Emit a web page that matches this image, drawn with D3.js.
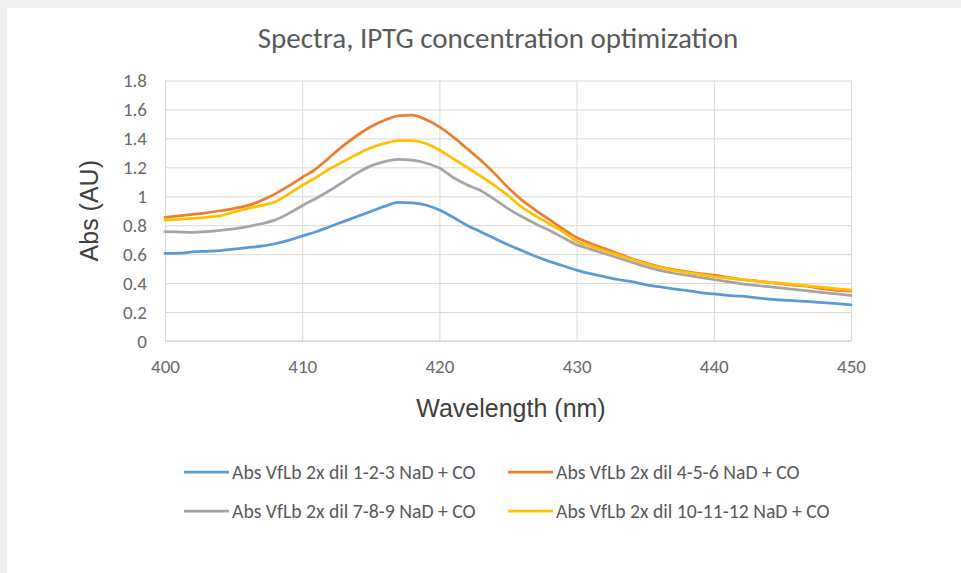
<!DOCTYPE html>
<html>
<head>
<meta charset="utf-8">
<script src="https://cdn.jsdelivr.net/npm/d3@7"></script>
<style>
  html, body { margin: 0; padding: 0; background: #ffffff; }
  svg { display: block; }
</style>
</head>
<body>
<svg id="chart" width="961" height="573"></svg>
<script>
// Wavelengths sampled every 1 nm
const wavelengths = d3.range(400, 451);

const seriesNames = [
  "Abs VfLb 2x dil 1-2-3 NaD + CO",
  "Abs VfLb 2x dil 4-5-6 NaD + CO",
  "Abs VfLb 2x dil 7-8-9 NaD + CO",
  "Abs VfLb 2x dil 10-11-12 NaD + CO"
];
const seriesColors = ["#5b9bd5", "#ed7d31", "#a5a5a5", "#ffc000"];

const abs123 = [0.605, 0.607, 0.615, 0.620, 0.625, 0.635, 0.645, 0.655, 0.672, 0.695,
  0.725, 0.755, 0.790, 0.825, 0.860, 0.895, 0.930, 0.958, 0.955, 0.940,
  0.905, 0.855, 0.800, 0.755, 0.710, 0.665, 0.625, 0.585, 0.550, 0.520,
  0.490, 0.465, 0.445, 0.425, 0.410, 0.390, 0.375, 0.360, 0.350, 0.335,
  0.325, 0.315, 0.310, 0.300, 0.290, 0.283, 0.278, 0.272, 0.265, 0.258, 0.250];

const abs456 = [0.855, 0.865, 0.875, 0.885, 0.900, 0.915, 0.935, 0.970, 1.015, 1.070,
  1.130, 1.190, 1.270, 1.350, 1.420, 1.480, 1.525, 1.555, 1.560, 1.530,
  1.480, 1.410, 1.330, 1.250, 1.160, 1.060, 0.975, 0.905, 0.840, 0.775,
  0.715, 0.675, 0.640, 0.605, 0.570, 0.540, 0.515, 0.495, 0.480, 0.465,
  0.455, 0.440, 0.425, 0.415, 0.405, 0.395, 0.385, 0.375, 0.360, 0.350, 0.345];

const abs789 = [0.755, 0.753, 0.750, 0.755, 0.765, 0.775, 0.790, 0.810, 0.835, 0.880,
  0.935, 0.985, 1.040, 1.100, 1.160, 1.210, 1.240, 1.255, 1.250, 1.230,
  1.195, 1.130, 1.080, 1.040, 0.980, 0.915, 0.860, 0.810, 0.765, 0.715,
  0.665, 0.635, 0.605, 0.575, 0.545, 0.515, 0.490, 0.470, 0.455, 0.440,
  0.425, 0.410, 0.395, 0.385, 0.375, 0.365, 0.355, 0.345, 0.335, 0.325, 0.315];

const abs101112 = [0.835, 0.840, 0.847, 0.855, 0.865, 0.890, 0.915, 0.935, 0.960, 1.015,
  1.075, 1.130, 1.190, 1.240, 1.290, 1.335, 1.365, 1.385, 1.385, 1.365,
  1.320, 1.260, 1.200, 1.140, 1.075, 1.005, 0.925, 0.865, 0.810, 0.755,
  0.690, 0.655, 0.625, 0.595, 0.565, 0.535, 0.510, 0.490, 0.475, 0.460,
  0.445, 0.435, 0.425, 0.415, 0.405, 0.398, 0.390, 0.380, 0.370, 0.360, 0.352];

const seriesValues = [abs123, abs456, abs789, abs101112];

const xTicks = [400, 410, 420, 430, 440, 450];
const yTicks = [0, 0.2, 0.4, 0.6, 0.8, 1, 1.2, 1.4, 1.6, 1.8];

const titleText = "Spectra, IPTG concentration optimization";
const xTitle = "Wavelength (nm)";
const yTitle = "Abs (AU)";

// ---- layout ----
const svg = d3.select("#chart");
const W = 961, H = 573;
const plot = { left: 165, right: 851, top: 80.5, bottom: 341 };

// page frame: light grey edge along top and left
svg.append("rect").attr("width", W).attr("height", H).attr("fill", "#efefef");
svg.append("rect").attr("x", 7).attr("y", 8).attr("width", W - 7).attr("height", H - 8).attr("fill", "#ffffff");

const x = d3.scaleLinear().domain([400, 450]).range([plot.left, plot.right]);
const y = d3.scaleLinear().domain([0, 1.8]).range([plot.bottom, plot.top]);

const labelFont = "Carlito, 'Open Sans', 'Noto Sans', sans-serif";
const titleFont = "'Liberation Sans', Arial, sans-serif";

// grid
const gridY = d3.axisLeft(y).tickValues(yTicks).tickSize(-(plot.right - plot.left)).tickFormat("");
svg.append("g").attr("transform", `translate(${plot.left},0)`).call(gridY)
  .call(g => g.select(".domain").remove())
  .call(g => g.selectAll("line").attr("stroke", "#d9d9d9").attr("stroke-width", 1));

const gridX = d3.axisBottom(x).tickValues(xTicks).tickSize(-(plot.bottom - plot.top)).tickFormat("");
svg.append("g").attr("transform", `translate(0,${plot.bottom})`).call(gridX)
  .call(g => g.select(".domain").remove())
  .call(g => g.selectAll("line").attr("stroke", "#d9d9d9").attr("stroke-width", 1));

// tick labels
const yAxis = d3.axisLeft(y).tickValues(yTicks).tickSize(0).tickPadding(18)
  .tickFormat(d => d3.format("~g")(d));
svg.append("g").attr("transform", `translate(${plot.left},0)`).call(yAxis)
  .call(g => g.select(".domain").remove())
  .call(g => g.selectAll("text").attr("fill", "#6a6a6a").attr("font-size", 19)
    .attr("font-family", labelFont));

const xAxis = d3.axisBottom(x).tickValues(xTicks).tickSize(0).tickPadding(19)
  .tickFormat(d3.format("d"));
svg.append("g").attr("transform", `translate(0,${plot.bottom})`).call(xAxis)
  .call(g => g.select(".domain").remove())
  .call(g => g.selectAll("text").attr("fill", "#6a6a6a").attr("font-size", 19)
    .attr("font-family", labelFont));

// bottom axis line
svg.append("line")
  .attr("x1", plot.left).attr("x2", plot.right)
  .attr("y1", y(0)).attr("y2", y(0))
  .attr("stroke", "#d0d0d0").attr("stroke-width", 1);

// series lines
const line = d3.line()
  .x((d, i) => x(wavelengths[i]))
  .y(d => y(d))
  .curve(d3.curveMonotoneX);

seriesValues.forEach((vals, k) => {
  svg.append("path")
    .datum(vals)
    .attr("d", line)
    .attr("fill", "none")
    .attr("stroke", seriesColors[k])
    .attr("stroke-width", 2.75)
    .attr("stroke-linejoin", "round")
    .attr("stroke-linecap", "round");
});

// titles
svg.append("text")
  .attr("x", 498).attr("y", 48)
  .attr("text-anchor", "middle")
  .attr("font-family", labelFont)
  .attr("font-size", 29)
  .attr("fill", "#595959")
  .text(titleText);

svg.append("text")
  .attr("x", 511).attr("y", 417)
  .attr("text-anchor", "middle")
  .attr("font-family", titleFont)
  .attr("font-size", 25)
  .attr("fill", "#404040")
  .text(xTitle);

svg.append("text")
  .attr("transform", `translate(98,${(plot.top + plot.bottom) / 2}) rotate(-90)`)
  .attr("text-anchor", "middle")
  .attr("font-family", titleFont)
  .attr("font-size", 25)
  .attr("fill", "#404040")
  .text(yTitle);

// legend (2 x 2)
const legendPos = [
  { lx: 184, ly: 472 },
  { lx: 508, ly: 472 },
  { lx: 184, ly: 511 },
  { lx: 508, ly: 511 }
];
const legend = svg.append("g");
seriesNames.forEach((name, k) => {
  const p = legendPos[k];
  legend.append("line")
    .attr("x1", p.lx).attr("x2", p.lx + 45)
    .attr("y1", p.ly).attr("y2", p.ly)
    .attr("stroke", seriesColors[k]).attr("stroke-width", 2.75);
  legend.append("text")
    .attr("x", p.lx + 48).attr("y", p.ly)
    .attr("dy", "0.33em")
    .attr("font-family", labelFont)
    .attr("font-size", 19.7)
    .attr("fill", "#595959")
    .text(name);
});
</script>
</body>
</html>
